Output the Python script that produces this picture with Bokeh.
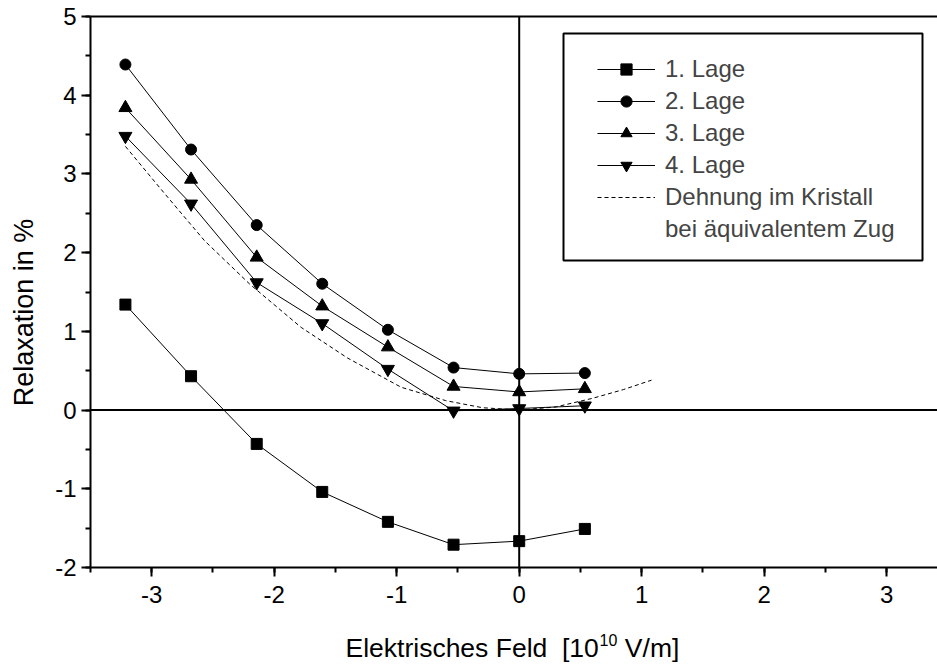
import math
from bokeh.plotting import figure
from bokeh.models import (Span, Legend, LegendItem, LinearAxis, FixedTicker,
                          SingleIntervalTicker, Range1d, Label, BoxAnnotation,
                          PrintfTickFormatter)
from bokeh.embed import file_html
from bokeh.resources import INLINE

# ---- data ----
feld = [-3.215, -2.679, -2.143, -1.608, -1.072, -0.536, 0.0, 0.536]
lage1 = [1.34, 0.43, -0.43, -1.04, -1.42, -1.71, -1.665, -1.51]
lage2 = [4.39, 3.31, 2.35, 1.605, 1.02, 0.54, 0.46, 0.47]
lage3 = [3.84, 2.93, 1.94, 1.32, 0.80, 0.30, 0.23, 0.27]
lage4 = [3.48, 2.62, 1.62, 1.10, 0.52, -0.01, 0.02, 0.055]

dehnung_x = [-3.215, -2.9, -2.568, -2.2, -1.78, -1.4, -0.964, -0.6, -0.3, 0.0, 0.3, 0.6, 0.85, 1.08]
dehnung_y = [3.35, 2.76, 2.15, 1.6, 1.05, 0.66, 0.29, 0.12, 0.03, 0.0, 0.04, 0.15, 0.26, 0.38]

labels = ["1. Lage", "2. Lage", "3. Lage", "4. Lage"]
dehnung_label = ["Dehnung im Kristall", "bei äquivalentem Zug"]
x_label_parts = ["Elektrisches Feld\u00a0 [10", "10", "\u00a0V/m]"]
y_label = "Relaxation in %"

FONT = "Liberation Sans"

p = figure(width=937, height=665, output_backend="svg", toolbar_location=None,
           x_range=Range1d(-3.5, 3.415), y_range=Range1d(-2, 5),
           min_border_left=90, min_border_right=0, min_border_top=16,
           min_border_bottom=98)
p.grid.visible = False
p.outline_line_color = None
p.background_fill_color = "white"
p.border_fill_color = "white"

for ax in (p.xaxis[0], p.yaxis[0]):
    ax.ticker = SingleIntervalTicker(interval=1, num_minor_ticks=2)
    ax.formatter = PrintfTickFormatter(format="%d")
    ax.axis_line_width = 2
    ax.axis_line_color = "black"
    ax.major_tick_line_width = 2
    ax.minor_tick_line_width = 2
    ax.major_tick_in = 0
    ax.major_tick_out = 9
    ax.minor_tick_in = 0
    ax.minor_tick_out = 5
    ax.major_label_text_font = FONT
    ax.major_label_text_font_size = "24px"
    ax.major_label_text_color = "black"

p.xaxis.major_label_standoff = 9
p.yaxis.major_label_standoff = 5

top = LinearAxis(ticker=FixedTicker(ticks=[]), major_label_text_font_size="0px",
                 axis_line_width=2, major_tick_out=0, major_tick_in=0,
                 minor_tick_out=0, minor_tick_in=0, major_label_standoff=0)
p.add_layout(top, "above")


def title_label(x, y, text, size, angle=0.0):
    return Label(x=x, y=y, x_units="canvas", y_units="canvas", text=text,
                 text_font=FONT, text_font_size=size,
                 text_align="left" if angle == 0 else "center",
                 text_baseline="middle", angle=angle, text_color="black")


# axis titles (side panels, canvas coordinates; y = text centre)
p.add_layout(title_label(345, 647.8, x_label_parts[0], "26.5px"), "below")
p.add_layout(title_label(617, 647.8, x_label_parts[2], "26.5px"), "below")
p.add_layout(title_label(599, 639.5, x_label_parts[1], "16px"), "left")
p.add_layout(title_label(23.6, 312, y_label, "27px", angle=math.pi / 2), "left")

p.add_layout(Span(location=0, dimension="width", line_color="black",
                  line_width=2, level="underlay"))
p.add_layout(Span(location=0, dimension="height", line_color="black",
                  line_width=2, level="underlay"))

items = []
series = [(lage1, "square", 11), (lage2, "circle", 11),
          (lage3, "triangle", 13), (lage4, "inverted_triangle", 13)]
for (vals, marker, size), lab in zip(series, labels):
    ln = p.line(feld, vals, line_color="black", line_width=1)
    sc = p.scatter(feld, vals, marker=marker, size=size,
                   fill_color="black", line_color="black")
    items.append(LegendItem(label=lab, renderers=[ln, sc]))

dl = p.line(dehnung_x, dehnung_y, line_color="black", line_width=1,
            line_dash="4 3")
items.append(LegendItem(label=dehnung_label[0], renderers=[dl]))
dummy = p.line([], [], line_alpha=0)
items.append(LegendItem(label=dehnung_label[1], renderers=[dummy]))

# legend frame
p.add_layout(BoxAnnotation(left=563, right=922, top=33, bottom=260,
                           left_units="canvas", right_units="canvas",
                           top_units="canvas", bottom_units="canvas",
                           fill_color="white", fill_alpha=1,
                           line_color="black", line_width=2, line_alpha=1))

legend = Legend(items=items, location=(507, 324), margin=0, padding=0,
                spacing=4, glyph_width=58, glyph_height=28, label_height=28,
                label_standoff=10, label_text_font=FONT,
                label_text_font_size="24px", border_line_color=None,
                background_fill_alpha=0)
p.add_layout(legend)

open("out.html", "w").write(file_html(p, INLINE))
